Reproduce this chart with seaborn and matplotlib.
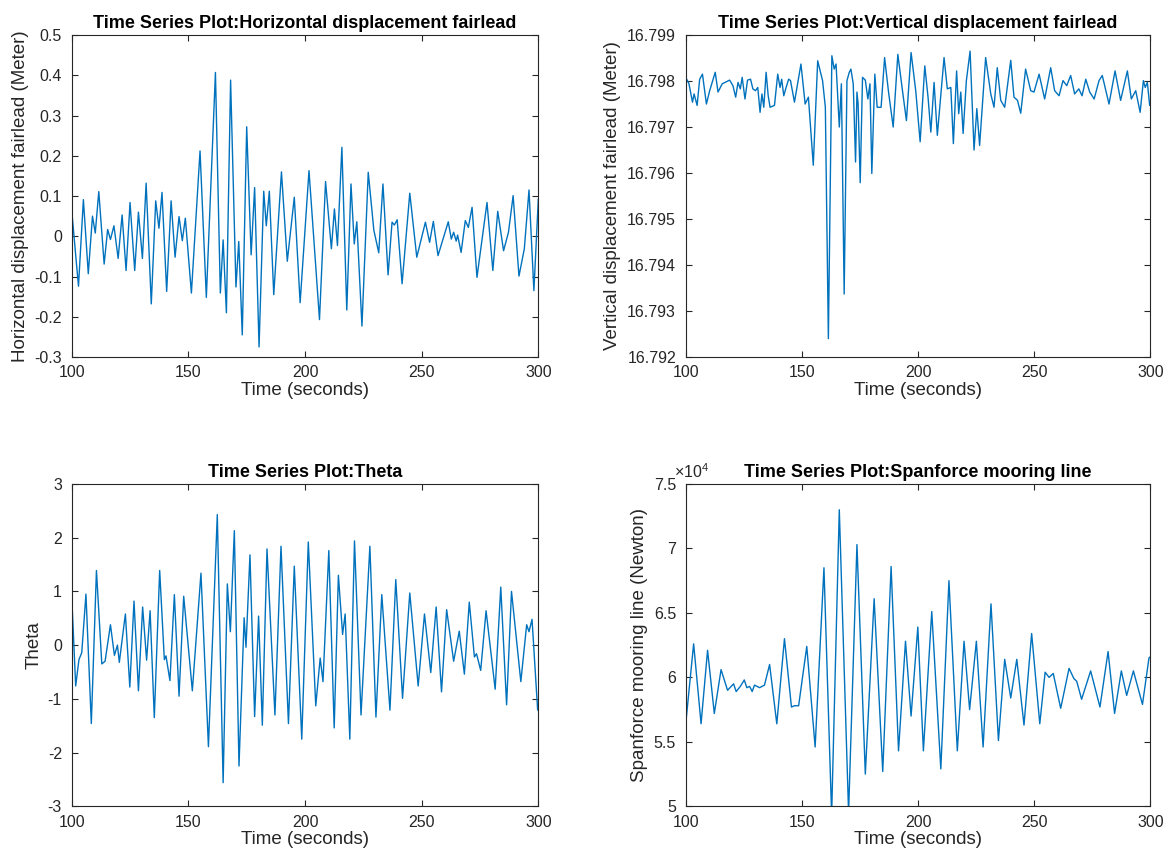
import matplotlib
matplotlib.use("Agg")
import matplotlib.pyplot as plt
from matplotlib.ticker import FuncFormatter, MultipleLocator
import seaborn as sns
import pandas as pd

# ---------------------------------------------------------------- data
# Horizontal displacement of the fairlead (m)
horiz_t = [100.0, 102.9, 105.0, 107.1, 108.9, 110.1, 111.6, 113.9, 115.4, 116.6,
           118.1, 119.9, 121.6, 123.3, 125.0, 127.0, 128.6, 130.3, 131.9, 134.1,
           136.0, 137.4, 138.7, 140.7, 142.6, 144.3, 146.0, 147.4, 148.7, 151.3,
           155.0, 157.7, 161.6, 163.7, 164.9, 166.3, 168.1, 170.4, 171.6, 173.1,
           175.0, 176.9, 178.4, 180.3, 182.3, 183.4, 184.7, 186.6, 189.9, 192.4,
           195.4, 197.9, 201.7, 206.2, 208.8, 211.3, 212.6, 213.9, 215.8, 217.9,
           219.7, 221.1, 222.2, 224.4, 227.1, 229.5, 231.6, 233.4, 235.6, 237.3,
           238.3, 239.5, 241.6, 244.9, 247.9, 251.6, 253.4, 255.0, 257.0, 261.4,
           262.7, 263.7, 264.8, 265.4, 266.9, 268.7, 270.0, 271.6, 273.7, 278.0,
           280.5, 282.6, 285.1, 287.2, 289.2, 291.7, 294.0, 296.0, 298.1, 300.0]
horiz_v = [0.064, -0.124, 0.091, -0.093, 0.050, 0.008, 0.111, -0.069, 0.017, -0.008,
           0.026, -0.055, 0.053, -0.085, 0.084, -0.085, 0.060, -0.055, 0.132, -0.168,
           0.088, 0.020, 0.109, -0.137, 0.088, -0.052, 0.049, -0.011, 0.045, -0.141,
           0.212, -0.152, 0.407, -0.141, -0.009, -0.190, 0.388, -0.126, -0.013, -0.245,
           0.272, -0.046, 0.121, -0.275, 0.112, 0.026, 0.112, -0.145, 0.160, -0.062,
           0.097, -0.165, 0.163, -0.207, 0.136, -0.031, 0.068, -0.023, 0.221, -0.183,
           0.130, -0.019, 0.036, -0.223, 0.159, 0.015, -0.041, 0.130, -0.096, 0.035,
           0.028, 0.041, -0.118, 0.107, -0.052, 0.035, -0.015, 0.037, -0.048, 0.036,
           -0.007, 0.010, -0.012, 0.003, -0.040, 0.039, 0.022, 0.072, -0.102, 0.084,
           -0.085, 0.062, -0.036, 0.010, 0.101, -0.099, -0.031, 0.115, -0.135, 0.093]

# Vertical displacement of the fairlead (m)
vert_t = [100.0, 101.4, 102.9, 103.6, 104.9, 106.0, 107.2, 108.9, 110.3, 112.7,
          113.9, 115.7, 118.9, 120.3, 121.5, 122.5, 123.5, 124.3, 125.5, 126.6,
          127.9, 128.9, 130.0, 131.0, 132.0, 132.8, 133.6, 134.6, 135.5, 136.3,
          138.2, 139.6, 140.6, 141.3, 142.2, 143.2, 144.3, 145.1, 146.8, 149.6,
          151.4, 152.8, 154.9, 156.8, 158.9, 160.1, 161.4, 162.9, 163.9, 164.7,
          166.1, 167.0, 168.2, 169.4, 170.4, 171.1, 172.1, 173.1, 173.7, 174.2,
          175.1, 176.1, 177.3, 178.4, 179.3, 180.1, 181.4, 182.4, 184.1, 185.6,
          187.3, 189.3, 191.3, 193.3, 195.0, 197.0, 199.0, 200.9, 202.9, 204.3,
          205.5, 206.9, 208.3, 211.2, 212.6, 214.1, 215.2, 216.6, 217.5, 218.4,
          219.4, 220.8, 222.4, 224.1, 225.3, 226.5, 229.1, 231.3, 232.7, 234.1,
          235.6, 237.3, 239.9, 241.3, 242.8, 244.2, 246.3, 248.5, 249.9, 252.1,
          254.5, 257.1, 258.8, 260.7, 262.4, 264.0, 265.7, 267.4, 269.2, 270.6,
          272.2, 273.9, 275.8, 277.9, 279.3, 282.2, 284.8, 287.2, 290.1, 291.8,
          293.7, 295.6, 297.0, 297.8, 298.7, 299.7, 300.0]
vert_v = [16.79808, 16.79794, 16.79754, 16.79772, 16.79747, 16.79804, 16.79815, 16.79750, 16.79779, 16.79819,
          16.79776, 16.79794, 16.79802, 16.79790, 16.79765, 16.79797, 16.79783, 16.79808, 16.79761, 16.79802,
          16.79804, 16.79783, 16.79779, 16.79786, 16.79732, 16.79772, 16.79743, 16.79819, 16.79768, 16.79743,
          16.79747, 16.79815, 16.79786, 16.79804, 16.79768, 16.79786, 16.79804, 16.79801, 16.79754, 16.79837,
          16.79750, 16.79765, 16.79617, 16.79844, 16.79801, 16.79743, 16.79240, 16.79855, 16.79826, 16.79837,
          16.79700, 16.79794, 16.79337, 16.79801, 16.79819, 16.79826, 16.79794, 16.79624, 16.79776, 16.79750,
          16.79579, 16.79808, 16.79802, 16.79761, 16.79794, 16.79599, 16.79815, 16.79743, 16.79743, 16.79851,
          16.79776, 16.79700, 16.79858, 16.79779, 16.79714, 16.79862, 16.79779, 16.79668, 16.79833, 16.79765,
          16.79689, 16.79797, 16.79682, 16.79851, 16.79783, 16.79786, 16.79664, 16.79822, 16.79729, 16.79776,
          16.79686, 16.79801, 16.79865, 16.79650, 16.79740, 16.79660, 16.79851, 16.79772, 16.79743, 16.79829,
          16.79758, 16.79743, 16.79845, 16.79765, 16.79758, 16.79730, 16.79826, 16.79779, 16.79776, 16.79815,
          16.79761, 16.79829, 16.79779, 16.79768, 16.79801, 16.79790, 16.79812, 16.79772, 16.79783, 16.79768,
          16.79804, 16.79776, 16.79761, 16.79801, 16.79812, 16.79750, 16.79822, 16.79758, 16.79822, 16.79761,
          16.79779, 16.79732, 16.79801, 16.79786, 16.79797, 16.79747, 16.79750]

# Theta
theta_t = [100.0, 101.7, 103.1, 104.3, 106.1, 108.4, 110.6, 112.9, 114.3, 116.6,
           118.3, 119.6, 120.4, 123.0, 124.9, 126.7, 128.6, 130.4, 132.1, 133.6,
           135.4, 137.7, 139.7, 140.4, 142.1, 144.0, 146.0, 148.0, 151.7, 155.4,
           158.6, 162.4, 164.9, 166.7, 168.0, 169.7, 171.7, 173.9, 174.7, 176.4,
           178.4, 180.1, 181.7, 183.7, 187.1, 189.7, 192.9, 195.4, 198.6, 201.4,
           204.6, 206.5, 207.7, 210.2, 212.5, 214.3, 216.1, 217.2, 219.2, 221.2,
           224.0, 227.8, 230.4, 232.9, 236.4, 238.9, 241.8, 244.9, 248.5, 251.2,
           253.9, 256.2, 258.5, 260.7, 263.7, 266.1, 268.3, 270.4, 272.6, 273.5,
           275.3, 277.6, 281.5, 283.9, 286.4, 288.5, 292.5, 295.0, 296.0, 297.3,
           299.7, 300.0]
theta_v = [0.91, -0.76, -0.27, -0.14, 0.95, -1.46, 1.39, -0.35, -0.30, 0.38,
           -0.19, 0.00, -0.32, 0.58, -0.78, 0.82, -0.85, 0.71, -0.28, 0.64,
           -1.35, 1.39, -0.27, -0.20, -0.66, 0.94, -0.95, 0.91, -0.85, 1.34,
           -1.89, 2.43, -2.56, 1.14, 0.25, 2.13, -2.25, 0.51, -0.04, 1.68,
           -1.33, 0.54, -1.49, 1.79, -1.30, 1.84, -1.46, 1.47, -1.75, 1.92,
           -1.13, -0.24, -0.68, 1.76, -1.54, 1.30, 0.20, 0.58, -1.75, 1.94,
           -1.30, 1.84, -1.34, 0.94, -1.21, 1.22, -0.99, 0.97, -0.76, 0.58,
           -0.51, 0.71, -0.87, 0.66, -0.30, 0.26, -0.54, 0.80, -0.22, -0.16,
           -0.47, 0.64, -0.82, 1.08, -1.11, 1.00, -0.68, 0.38, 0.25, 0.48,
           -1.20, -1.22]

# Span force of the mooring line (N)
span_t = [100.0, 103.4, 106.6, 109.4, 112.3, 115.2, 118.0, 120.6, 121.7, 123.5,
          125.2, 126.3, 127.5, 128.6, 129.6, 131.8, 133.9, 136.1, 139.2, 142.5,
          145.5, 146.8, 148.6, 152.1, 155.7, 159.5, 162.8, 166.1, 170.1, 173.7,
          177.3, 181.1, 184.8, 188.4, 191.6, 194.6, 197.0, 199.9, 202.3, 205.9,
          209.8, 213.3, 216.9, 219.8, 222.2, 225.1, 228.0, 231.4, 234.6, 237.3,
          239.9, 242.5, 245.6, 248.9, 252.4, 254.7, 256.4, 258.2, 261.4, 265.0,
          267.1, 268.3, 270.4, 274.3, 278.3, 281.8, 284.6, 287.5, 289.8, 292.7,
          296.6, 299.4, 300.0]
span_v = [56400, 62600, 56400, 62100, 57200, 60600, 59000, 59500, 58900, 59300,
          59800, 59200, 59300, 58900, 59400, 59200, 59400, 61000, 56400, 63000,
          57700, 57800, 57800, 62400, 54600, 68500, 49300, 73000, 49500, 70300,
          52500, 66100, 52700, 68600, 54300, 62800, 57000, 63900, 54300, 65100,
          52900, 67500, 54300, 62800, 57500, 62800, 54600, 65700, 55100, 61400,
          58400, 61400, 56300, 63400, 56400, 60400, 60000, 60300, 57600, 60700,
          59900, 59700, 58300, 60500, 57700, 62000, 57200, 60500, 58600, 60500,
          57900, 61500, 61600]

x_ticks = [100, 150, 200, 250, 300]

# ---------------------------------------------------------------- style
sns.set_style("ticks")
plt.rcParams["font.family"] = ["Liberation Sans", "DejaVu Sans"]
plt.rcParams["mathtext.fontset"] = "custom"
plt.rcParams["mathtext.rm"] = "Liberation Sans"
plt.rcParams["mathtext.it"] = "Liberation Sans"

LINE = "#0072BD"
INK = "#262626"

fig = plt.figure(figsize=(11.68, 8.63), dpi=100)
ax1 = fig.add_axes([0.0614, 0.5863, 0.3995, 0.3731])
ax2 = fig.add_axes([0.5871, 0.5863, 0.3978, 0.3731])
ax3 = fig.add_axes([0.0614, 0.0657, 0.3995, 0.3735])
ax4 = fig.add_axes([0.5871, 0.0657, 0.3978, 0.3735])

panels = [
    (ax1, horiz_t, horiz_v, "Time Series Plot:Horizontal displacement fairlead",
     "Horizontal displacement fairlead (Meter)", (-0.3, 0.5), 0.1),
    (ax2, vert_t, vert_v, "Time Series Plot:Vertical displacement fairlead",
     "Vertical displacement fairlead (Meter)", (16.792, 16.799), 0.001),
    (ax3, theta_t, theta_v, "Time Series Plot:Theta",
     "Theta", (-3, 3), 1),
    (ax4, span_t, span_v, "Time Series Plot:Spanforce mooring line",
     "Spanforce mooring line (Newton)", (50000, 75000), 5000),
]

for ax, t, v, title, ylabel, ylim, ystep in panels:
    df = pd.DataFrame({"t": t, "v": v})
    sns.lineplot(data=df, x="t", y="v", ax=ax, color=LINE, linewidth=1.0,
                 estimator=None, sort=False)
    ax.set_xlim(100, 300)
    ax.set_ylim(*ylim)
    ax.set_xticks(x_ticks)
    ax.yaxis.set_major_locator(MultipleLocator(ystep))
    ax.set_title(title, fontsize=13, fontweight="bold", color="black", pad=5)
    ax.set_xlabel("Time (seconds)", fontsize=13.5, color=INK, labelpad=1)
    ax.set_ylabel(ylabel, fontsize=13.5, color=INK, labelpad=4)
    ax.tick_params(direction="in", length=4, width=0.8, top=True, right=True,
                   labelsize=11.5, colors=INK)
    ax.tick_params(axis="x", pad=6)
    ax.tick_params(axis="y", pad=7)
    for s in ax.spines.values():
        s.set_visible(True)
        s.set_color(INK)
        s.set_linewidth(0.8)

ax1.yaxis.set_major_formatter(FuncFormatter(lambda y, p: "0" if abs(y) < 1e-9 else f"{y:.1f}"))
ax2.yaxis.set_major_formatter(FuncFormatter(lambda y, p: f"{y:.3f}"))
ax3.yaxis.set_major_formatter(FuncFormatter(lambda y, p: f"{y:g}"))
ax4.yaxis.set_major_formatter(FuncFormatter(lambda y, p: f"{y / 1e4:g}"))
ax4.text(-0.025, 1.008, r"$\times10^{4}$", transform=ax4.transAxes,
         ha="left", va="bottom", fontsize=11.5, color=INK)

fig.savefig("out.png", dpi=100, facecolor="white")
